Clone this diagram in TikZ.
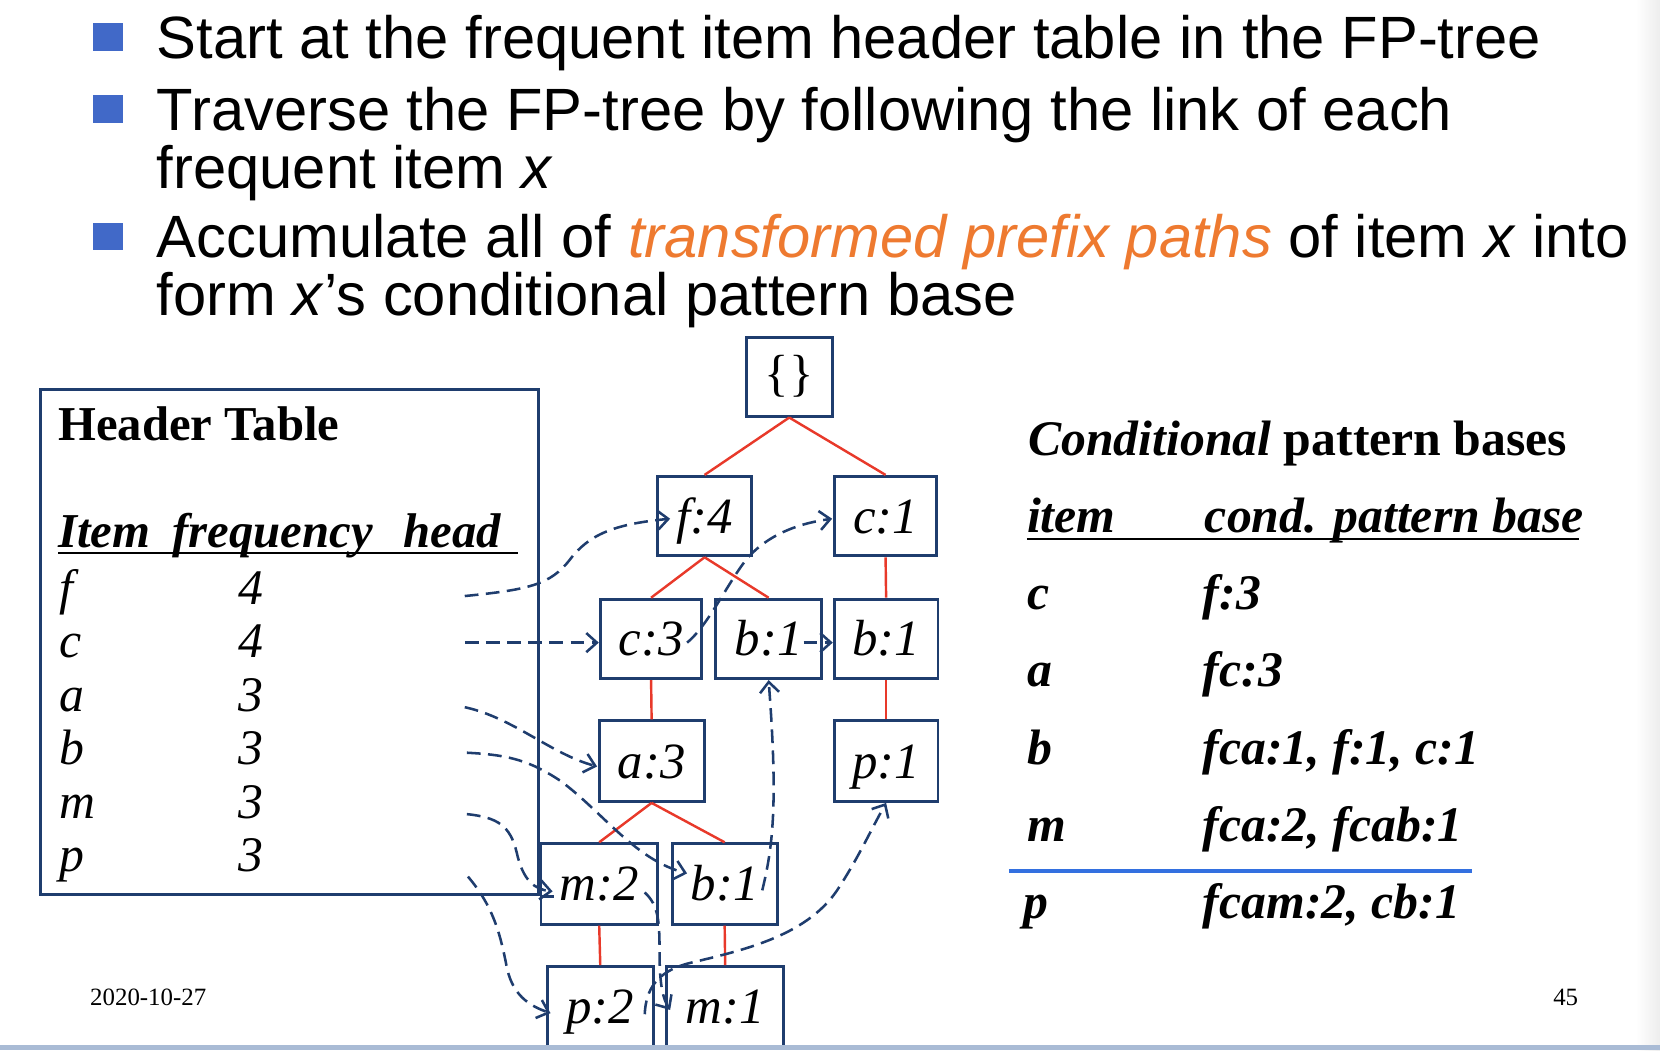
\documentclass[tikz,border=0pt]{standalone}
\usepackage{fontspec}
\setmainfont{Liberation Serif}
\newfontfamily\arialf{Liberation Sans}
\usetikzlibrary{arrows.meta}
\definecolor{navy}{HTML}{1F3D6E}
\definecolor{treered}{HTML}{E8392A}
\definecolor{bulletblue}{HTML}{4169C8}
\definecolor{accent}{HTML}{EE7A30}
\definecolor{ruleblue}{HTML}{3370E0}
\definecolor{footline}{HTML}{A9BBD5}
\begin{document}
\begin{tikzpicture}[x=1pt,y=-1pt,
  tbox/.style={draw=navy, line width=2.8pt, inner sep=0pt, text height=32pt, text depth=0pt,
               font=\fontsize{48}{52}\selectfont\itshape},
  tedge/.style={treered, line width=2.3pt},
  dlink/.style={navy, line width=2.4pt, dash pattern=on 13pt off 7pt,
                -{Straight Barb[length=10pt,width=18pt]}},
  btext/.style={anchor=base west, inner sep=0pt, font=\arialf\fontsize{56.4}{60}\selectfont},
  bsq/.style={fill=bulletblue, minimum width=28pt, minimum height=26pt, inner sep=0pt},
  ttl/.style={anchor=base west, inner sep=0pt, font=\fontsize{46}{50}\selectfont\bfseries},
  hcol/.style={anchor=base west, inner sep=0pt, font=\fontsize{46}{50}\selectfont\bfseries\itshape},
  hrow/.style={anchor=base west, inner sep=0pt, font=\fontsize{47}{50}\selectfont\itshape},
  crow/.style={anchor=base west, inner sep=0pt, font=\fontsize{47}{50}\selectfont\bfseries\itshape},
  foot/.style={anchor=base west, inner sep=0pt, font=\fontsize{23.5}{26}\selectfont}
]
\useasboundingbox (0,0) rectangle (1568,992);
\fill[left color=white, right color=black!7] (1545,0) rectangle (1568,992);

% bullets
\node[bsq] (sq1) at (102,35) {};
\node[bsq] (sq2) at (102,103) {};
\node[bsq] (sq3) at (102,223.5) {};
\node[btext] (l1) at (148,55) {Start at the frequent item header table in the FP-tree};
\node[btext] (l2) at (148,123) {Traverse the FP-tree by following the link of each};
\node[btext] (l2b) at (148,178) {frequent item \textit{x}};
\node[btext] (l3) at (148,243) {Accumulate all of \textcolor{accent}{\textit{transformed prefix paths}} of item \textit{x} into};
\node[btext] (l3b) at (148,298) {form \textit{x}’s conditional pattern base};

% header table
\node[draw=navy, line width=2.8pt, minimum width=471pt, minimum height=477pt, inner sep=0pt] (hdr) at (273.5,606.5) {};
\draw[navy, line width=2.8pt] (hdr.south east) -- ++(13,0);
\node[ttl] (htitle) at (55,416) {Header Table};
\node[hcol] (hitem) at (55,517) {Item};
\node[hcol] (hfreq) at (163,517) {frequency};
\node[hcol] (hhead) at (381,517) {head};
\draw[line width=2pt] (55,522) -- (489,522);
\foreach \it/\fr [count=\i from 0] in {f/4,c/4,a/3,b/3,m/3,p/3}{
  \node[hrow] (hi\i) at (56,571+50.5*\i) {\it};
  \node[hrow] (hn\i) at (225,571+50.5*\i) {\fr};
}

% FP tree
\node[tbox, minimum width=81pt, minimum height=74pt, text height=26pt, font=\fontsize{48}{52}\selectfont\upshape] (root) at (745.5,356) {\{\}};
\node[tbox, minimum width=89pt, minimum height=75pt] (f4) at (665.5,487.5) {f:4};
\node[tbox, minimum width=97pt, minimum height=75pt] (c1) at (836.5,487.5) {c:1};
\node[tbox, minimum width=96pt, minimum height=75pt] (c3) at (615,603.5) {c:3};
\node[tbox, minimum width=100pt, minimum height=75pt] (b1m) at (726,603.5) {b:1};
\node[tbox, minimum width=98pt, minimum height=75pt] (b1r) at (837,603.5) {b:1};
\node[tbox, minimum width=99pt, minimum height=76pt] (a3) at (615.5,719) {a:3};
\node[tbox, minimum width=98pt, minimum height=76pt] (p1) at (837,719) {p:1};
\node[tbox, minimum width=110pt, minimum height=76pt] (m2) at (566,835) {m:2};
\node[tbox, minimum width=99pt, minimum height=76pt] (b1l) at (684.5,835) {b:1};
\node[tbox, minimum width=100pt, minimum height=76pt] (p2) at (567,951) {p:2};
\node[tbox, minimum width=110pt, minimum height=76pt] (m1) at (685,951) {m:1};

\draw[tedge] (root.south) -- (f4.north);
\draw[tedge] (root.south) -- (c1.north);
\draw[tedge] (f4.south) -- (c3.north);
\draw[tedge] (f4.south) -- (b1m.north);
\draw[tedge] (c1.south) -- (b1r.north);
\draw[tedge] (c3.south) -- (a3.north);
\draw[tedge] (b1r.south) -- (p1.north);
\draw[tedge] (a3.south) -- (m2.north);
\draw[tedge] (a3.south) -- (b1l.north);
\draw[tedge] (m2.south) -- (p2.north);
\draw[tedge] (b1l.south) -- (m1.north);

% node-links
\coordinate (sf) at (439,563);
\coordinate (sc) at (439,607);
\coordinate (sa) at (439,668);
\coordinate (sb) at (441,711);
\coordinate (sm) at (441,769);
\coordinate (sp) at (442,828);
\coordinate (tf4) at (633,490);
\coordinate (oc3) at (649,607);
\coordinate (tc1) at (786,490);
\coordinate (ob1m) at (759,607);
\coordinate (ta3) at (564,724);
\coordinate (tb1l) at (649,825);
\coordinate (tm2) at (522,842);
\coordinate (om2) at (609,843);
\coordinate (tm1) at (633,954);
\coordinate (tp2) at (520,957);
\coordinate (op2) at (609,958);
\coordinate (ob1l) at (720,841);

\draw[dlink] (sf) .. controls (500,557) and (520,552) .. (538,529) .. controls (556,505) and (580,495) .. (tf4);
\draw[dlink] (sc) -- (sc -| c3.west);
\draw[dlink] (oc3) .. controls (670,590) and (690,545) .. (708,525) .. controls (725,507) and (750,495) .. (tc1);
\draw[dlink] (ob1m) -- (ob1m -| b1r.west);
\draw[dlink] (sa) .. controls (485,678) and (520,712) .. (ta3);
\draw[dlink] (sb) .. controls (480,713) and (500,718) .. (530,738) .. controls (570,768) and (600,812) .. (tb1l);
\draw[dlink] (sm) .. controls (470,772) and (482,780) .. (488,805) .. controls (494,832) and (505,840) .. (tm2);
\draw[dlink] (om2) .. controls (622,855) and (623,870) .. (623,900) .. controls (623,930) and (626,943) .. (tm1);
\draw[dlink] (sp) .. controls (465,855) and (472,880) .. (478,910) .. controls (483,940) and (500,950) .. (tp2);
\draw[dlink] (op2) .. controls (610,935) and (620,918) .. (650,910) .. controls (700,898) and (760,885) .. (790,842) .. controls (810,812) and (822,785) .. (p1.south);
\draw[dlink] (ob1l) .. controls (730,800) and (735,760) .. (b1m.south);

% conditional pattern bases
\node[anchor=base west, inner sep=0pt, font=\fontsize{47}{50}\selectfont\bfseries] (ctitle) at (971,430) {\textit{Conditional} pattern bases};
\node[crow] (citem) at (970,503) {item};
\node[crow] (cbase) at (1138,503) {cond. pattern base};
\draw[line width=2.2pt] (970,509) -- (1491,509);
\node[crow] (ci0) at (970,575.5) {c};
\node[crow] (cv0) at (1136,575.5) {f:3};
\node[crow] (ci1) at (970,648) {a};
\node[crow] (cv1) at (1136,648) {fc:3};
\node[crow] (ci2) at (970,722.5) {b};
\node[crow] (cv2) at (1136,722.5) {fca:1, f:1, c:1};
\node[crow] (ci3) at (970,795) {m};
\node[crow] (cv3) at (1136,795) {fca:2, fcab:1};
\draw[ruleblue, line width=3.5pt] (953,823) -- (1390,823);
\node[crow] (ci4) at (967,868) {p};
\node[crow] (cv4) at (1136,868) {fcam:2, cb:1};

% footer
\node[foot] (date) at (85,950) {2020-10-27};
\node[foot] (page) at (1467,950) {45};
\fill[footline] (0,987) rectangle (1568,992);
\end{tikzpicture}
\end{document}
